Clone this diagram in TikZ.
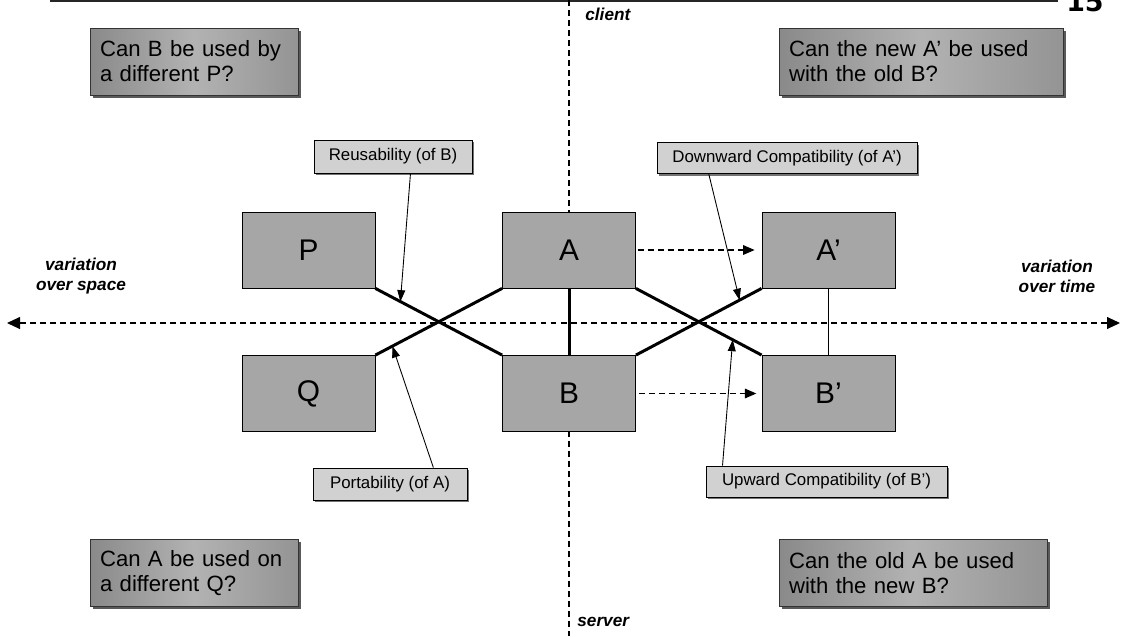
\documentclass[tikz,border=0pt]{standalone}
\usepackage{fontspec}
\setmainfont{Liberation Sans}
\newfontfamily\numfont{DejaVu Sans}
\usetikzlibrary{arrows.meta,shadows,calc}

\begin{document}
\begin{tikzpicture}[x=0.02cm,y=-0.02cm,
  blk/.style={draw=black,line width=0.5pt,fill=black!35,minimum width=2.66cm,
    minimum height=1.52cm,inner sep=0pt,font=\fontsize{17}{20}\selectfont},
  question/.style={draw=black!80,line width=0.5pt,left color=black!46,
    right color=black!42,middle color=black!30,
    drop shadow={shadow xshift=1.6pt,shadow yshift=-1.6pt,fill=black!65,opacity=1},
    inner xsep=0.2cm,inner ysep=0pt,minimum height=1.34cm,align=left,
    font=\fontsize{12.6}{14.2}\selectfont},
  tag/.style={draw=black,line width=0.5pt,fill=black!18,
    drop shadow={shadow xshift=1.2pt,shadow yshift=-1.2pt,fill=black!55,opacity=1},
    inner sep=0pt,font=\fontsize{9.6}{11}\selectfont},
  axislabel/.style={font=\fontsize{9.8}{11.3}\selectfont\bfseries\itshape,
    align=center,inner sep=0pt},
  link/.style={line width=1.7pt},
  pointer/.style={line width=0.5pt,-{Triangle[length=6.5pt,width=4.5pt]}},
  flow/.style={line width=0.6pt,dash pattern=on 3.4pt off 2.3pt},
  axisline/.style={line width=0.6pt,dash pattern=on 3.4pt off 2.3pt,
    {Triangle[length=7.4pt,width=6.8pt]}-{Triangle[length=7.4pt,width=6.8pt]}}
]
\useasboundingbox (0,0) rectangle (1124,636);

% header rule and page number
\coordinate (rule l) at (50,1);
\coordinate (rule r) at (1058,1);
\draw[line width=1.1pt,black!85] (rule l) -- (rule r);
\node[anchor=south east,inner sep=0pt,font=\numfont\fontsize{15.3}{16}\selectfont\bfseries]
  (page) at (1104,12) {15};

% axes: client/server and space/time
\coordinate (top) at (569,0);
\coordinate (bottom) at (569,636);
\coordinate (west) at (7,323);
\coordinate (east) at (1120,323);
\draw[flow] (top) -- (bottom);
\draw[axisline] (west) -- (east);

\node[axislabel,anchor=west] (client) at (585,14) {client};
\node[axislabel,anchor=west] (server) at (577,622) {server};
\node[axislabel] (space) at (81,276) {variation\\over space};
\node[axislabel] (time) at (1057,276) {variation\\over time};

% components
\node[blk] (P)  at (308.5,250) {P};
\node[blk] (A)  at (569,250) {A};
\node[blk] (A2) at (828.5,250) {A’};
\node[blk] (Q)  at (308.5,393.5) {Q};
\node[blk] (B)  at (569,393.5) {B};
\node[blk] (B2) at (828.5,393.5) {B’};

% bindings between components
\draw[link] (P.south east) -- (B.north west);
\draw[link] (Q.north east) -- (A.south west);
\draw[link] (A.south) -- (B.north);
\draw[link] (A.south east) -- (B2.north west);
\draw[link] (B.north east) -- (A2.south west);
\draw[line width=0.6pt] (A2.south) -- (B2.north);

% evolution over time
\draw[flow,-{Triangle[length=6.5pt,width=5.5pt]}] ([xshift=1pt]A.east) -- ([xshift=-4pt]A2.west);
\draw[flow,-{Triangle[length=6.5pt,width=5.5pt]}] ([xshift=2pt]B.east) -- ([xshift=-3pt]B2.west);

% questions in the four quadrants
\node[question,minimum width=4.16cm,text width=3.76cm] (q1) at (194,61.5)
  {Can B be used by\\a different P?};
\node[question,minimum width=5.68cm,text width=5.28cm] (q2) at (921,61.5)
  {Can the new A’ be used\\with the old B?};
\node[question,minimum width=4.16cm,text width=3.76cm] (q3) at (194,573)
  {Can A be used on\\a different Q?};
\node[question,minimum width=5.36cm,text width=4.96cm] (q4) at (913,573)
  {Can the old A be used\\with the new B?};

% property labels
\node[tag,minimum width=3.16cm,minimum height=0.66cm] (reuse) at (393,156.5)
  {Reusability (of B)};
\node[tag,minimum width=5.2cm,minimum height=0.62cm] (down) at (787,158)
  {Downward Compatibility (of A’)};
\node[tag,minimum width=3.08cm,minimum height=0.64cm] (port) at (390,484)
  {Portability (of A)};
\node[tag,minimum width=4.82cm,minimum height=0.62cm] (up) at (826.5,481.5)
  {Upward Compatibility (of B’)};

% pointers from labels to bindings
\coordinate (reuse t) at ($(P.south east)!0.197!(B.north west)$);
\coordinate (down t)  at ($(B.north east)!0.825!(A2.south west)$);
\coordinate (port t)  at ($(Q.north east)!0.134!(A.south west)$);
\coordinate (up t)    at ($(A.south east)!0.77!(B2.north west)$);
\draw[pointer] ($(reuse.south west)!0.61!(reuse.south east)$) -- (reuse t);
\draw[pointer] ($(down.south west)!0.2!(down.south east)$) -- (down t);
\draw[pointer] ($(port.north west)!0.78!(port.north east)$) -- (port t);
\draw[pointer] ($(up.north west)!0.07!(up.north east)$) -- (up t);
\end{tikzpicture}
\end{document}
